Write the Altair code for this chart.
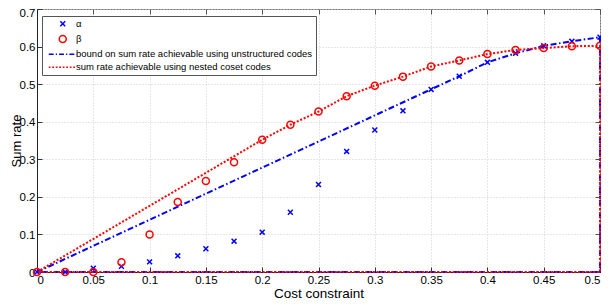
import altair as alt
import pandas as pd

# ---- data ----
cost = [0, 0.025, 0.05, 0.075, 0.1, 0.125, 0.15, 0.175, 0.2, 0.225, 0.25,
        0.275, 0.3, 0.325, 0.35, 0.375, 0.4, 0.425, 0.45, 0.475, 0.5]
alpha = [0, 0, 0.01, 0.015, 0.027, 0.043, 0.062, 0.082, 0.106, 0.159, 0.233,
         0.321, 0.378, 0.429, 0.486, 0.521, 0.558, 0.582, 0.602, 0.614, 0.625]
beta = [0, 0, 0, 0.026, 0.1, 0.186, 0.242, 0.292, 0.352, 0.392, 0.427,
        0.468, 0.496, 0.52, 0.547, 0.563, 0.58, 0.591, 0.596, 0.601, 0.602]

bound_x = [0, 0.375, 0.4, 0.425, 0.45, 0.475, 0.5, 0.5, 0]
bound_y = [0, 0.521, 0.558, 0.582, 0.602, 0.614, 0.625, 0, 0]

nested_x = [0, 0.2, 0.225, 0.25, 0.275, 0.3, 0.325, 0.35, 0.375, 0.4,
            0.425, 0.45, 0.475, 0.5, 0.5, 0]
nested_y = [0, 0.352, 0.392, 0.427, 0.468, 0.496, 0.52, 0.547, 0.563, 0.58,
            0.591, 0.596, 0.601, 0.602, 0, 0]

x_ticks = [0, 0.05, 0.1, 0.15, 0.2, 0.25, 0.3, 0.35, 0.4, 0.45, 0.5]
y_ticks = [0, 0.1, 0.2, 0.3, 0.4, 0.5, 0.6, 0.7]

series = ["α", "β",
          "bound on sum rate achievable using unstructured codes",
          "sum rate achievable using nested coset codes"]

BLUE = "#0000ff"
RED = "#ff0000"
SANS = "Liberation Sans, Arial"

points = pd.DataFrame({
    "x": cost + cost,
    "y": alpha + beta,
    "s": [series[0]] * len(cost) + [series[1]] * len(cost),
})
bound = pd.DataFrame({"x": bound_x, "y": bound_y, "o": list(range(len(bound_x)))})
nested = pd.DataFrame({"x": nested_x, "y": nested_y, "o": list(range(len(nested_x)))})


def dash_path(pattern, half=4.0):
    segs, pos, i = [], -half, 0
    while pos < half - 1e-9:
        end = min(pos + pattern[i % len(pattern)], half)
        if i % 2 == 0:
            segs.append(f"M{pos:.2f},0L{end:.2f},0")
        pos, i = end, i + 1
    return "".join(segs)


x_path = "M-0.7,-0.7L0.7,0.7M-0.7,0.7L0.7,-0.7"
dd_path = dash_path([1.4, 0.6, 0.35, 0.6])
dot_path = dash_path([0.5, 0.5])

xs = alt.Scale(domain=[0, 0.5], nice=False, zero=False)
ys = alt.Scale(domain=[0, 0.7], nice=False, zero=False)

# main axes: labels, inner ticks, grid, titles
x_main = alt.Axis(orient="bottom", values=x_ticks, format="~g", offset=-5, tickSize=5,
                  tickColor="#333", domain=False, grid=True, gridColor="#cfcfcf",
                  gridDash=[1, 2], labelPadding=2, labelFont=SANS, labelFontSize=11.5,
                  labelColor="#000", title="Cost constraint", titleFont=SANS,
                  titleFontSize=13.5, titleFontWeight="normal", titleColor="#000",
                  titleY=30, titleBaseline="alphabetic")
y_main = alt.Axis(orient="left", values=y_ticks, format="~g", offset=-5, tickSize=5,
                  tickColor="#333", domain=False, grid=True, gridColor="#cfcfcf",
                  gridDash=[1, 2], labelPadding=2, labelFont=SANS, labelFontSize=11.5,
                  labelColor="#000",
                  labelOffset={"condition": {"test": "datum.value > 0.65", "value": 4}, "value": 1},
                  title="Sum rate", titleFont=SANS, titleFontSize=13,
                  titleFontWeight="normal", titleColor="#000", titleAngle=270,
                  titleX=-22, titleY=131.5, titleAlign="center", titleBaseline="alphabetic")
# opposite side inner ticks
x_top = alt.Axis(orient="top", values=x_ticks, offset=-5, tickSize=5, tickColor="#555",
                 domain=False, grid=False, labels=False, title=None)
y_right = alt.Axis(orient="right", values=y_ticks, offset=-5, tickSize=5, tickColor="#555",
                   domain=False, grid=False, labels=False, title=None)
# dark domain lines on the left and bottom
x_dom = alt.Axis(orient="bottom", values=x_ticks, domain=True, domainColor="#222",
                 ticks=False, labels=False, grid=False, title=None)
y_dom = alt.Axis(orient="left", values=y_ticks, domain=True, domainColor="#222",
                 ticks=False, labels=False, grid=False, title=None)

bound_layer = alt.Chart(bound).mark_line(
    color=BLUE, strokeWidth=2, strokeDash=[6, 2.5, 1.5, 2.5]
).encode(
    x=alt.X("x:Q", scale=xs, axis=x_main),
    y=alt.Y("y:Q", scale=ys, axis=y_main),
    order="o:Q",
)

nested_layer = alt.Chart(nested).mark_line(
    color=RED, strokeWidth=2, strokeDash=[2, 1.8]
).encode(
    x=alt.X("x:Q", scale=xs, axis=x_top),
    y=alt.Y("y:Q", scale=ys, axis=y_right),
    order="o:Q",
)

legend = alt.Legend(
    title=None, orient="none", legendX=5, legendY=7, fillColor="#ffffff",
    strokeColor="#555", padding=3, rowPadding=2.2, labelFont=SANS,
    labelFontSize=9.5, labelColor="#000", labelLimit=400, symbolSize=49,
    symbolStrokeWidth=1.5, symbolOffset=13, labelOffset=8.5,
)

point_layer = alt.Chart(points).mark_point(
    filled=False, size=49, strokeWidth=1.5, opacity=1
).encode(
    x=alt.X("x:Q", scale=xs, axis=x_dom),
    y=alt.Y("y:Q", scale=ys, axis=y_dom),
    color=alt.Color("s:N", scale=alt.Scale(domain=series, range=[BLUE, RED, BLUE, RED]),
                    legend=legend),
    shape=alt.Shape("s:N", scale=alt.Scale(domain=series,
                                           range=[x_path, "circle", dd_path, dot_path]),
                    legend=legend),
)

chart = alt.layer(bound_layer, nested_layer, point_layer).resolve_axis(
    x="independent", y="independent"
).properties(
    width=563, height=263,
    autosize=alt.AutoSizeParams(type="none"),
    padding={"left": 29, "top": 1, "right": 1, "bottom": 29},
).configure_view(stroke="#777", strokeWidth=1)

chart.save("out.html", embed_options={"renderer": "svg", "actions": False})
